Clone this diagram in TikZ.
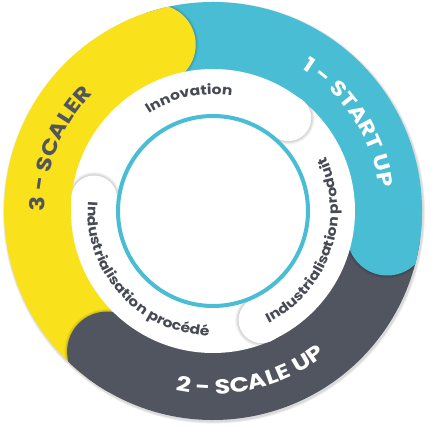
\documentclass[tikz,border=0pt]{standalone}
\usepackage{fontspec}
\setmainfont{Poppins}
\newfontfamily\trkouter{Poppins}[FakeStretch=1.18]
\newfontfamily\trkwide{Poppins}[FakeStretch=1.24]
\newfontfamily\trkinner{Poppins}[FakeStretch=1.15]
\usetikzlibrary{decorations.text}
\definecolor{cyel}{HTML}{F9E21C}
\definecolor{cblu}{HTML}{49BDD4}
\definecolor{cgry}{HTML}{51555F}
\definecolor{ctxt}{HTML}{474A55}
\begin{document}
\begin{tikzpicture}
\useasboundingbox (-213pt,-216pt) rectangle (218pt,211pt);
\coordinate (c) at (0,0);
% soft drop shadow of the disc
\foreach \k in {1,2,3}{
  \fill[black,opacity=0.05] (1pt,-1.5pt) circle (209pt+\k*0.7pt);
}
% outer ring sectors
\fill[cyel] (c) -- (109:209pt) arc (109:233:209pt) -- cycle;
\fill[cgry] (c) -- (233:209pt) arc (233:352:209pt) -- cycle;
\fill[cblu] (c) -- (-8:209pt) arc (-8:109:209pt) -- cycle;
% rounded heads of outer sectors
\foreach \a/\col in {109/cyel, -8/cblu, 233/cgry}{
  \pgfmathsetmacro\b{\a-35}
  \begin{scope}
    \clip (\b:209pt) arc (\b:\a:209pt) -- (\a:142pt) arc (\a:\b:142pt) -- cycle;
    \foreach \k in {1,...,4}{
      \fill[black,opacity=0.04] (\a:176pt) circle (40pt+\k*0.7pt);
    }
  \end{scope}
  \begin{scope}
    \clip (c) circle (209pt);
    \fill[\col] (\a:176pt) circle (40pt);
  \end{scope}
}
% inner white disc
\fill[white] (c) circle (142pt);
% rounded heads of inner segments
\foreach \a in {51, -66, 174}{
  \pgfmathsetmacro\b{\a-35}
  \begin{scope}
    \clip (\b:142pt) arc (\b:\a:142pt) -- (\a:97pt) arc (\a:\b:97pt) -- cycle;
    \foreach \k in {1,...,5}{
      \fill[black,opacity=0.035] (\a:119.5pt) circle (23pt+\k*0.7pt);
    }
  \end{scope}
  \fill[white] (\a:119.5pt) circle (23pt);
}
% inner blue circle
\draw[cblu, line width=4pt] (c) circle (95pt);
% outer labels
\path[decorate, decoration={text along path, text color=white, text align=center,
  text={|\trkouter\bfseries\fontsize{20.5pt}{20.5pt}\selectfont|1 - START UP}}]
  (73:168pt) arc (73:-7:168pt);
\path[decorate, decoration={text along path, text color=cgry, text align=center,
  text={|\trkouter\bfseries\fontsize{20.5pt}{20.5pt}\selectfont|3 - SCALER}}]
  (198:168pt) arc (198:118:168pt);
\path[decorate, decoration={text along path, text color=white, text align=center,
  text={|\trkwide\bfseries\fontsize{20.5pt}{20.5pt}\selectfont|2 - SCALE UP}}]
  (243:183pt) arc (243:323:183pt);
% inner labels
\path[decorate, decoration={text along path, text color=ctxt, text align=center,
  text={|\trkinner\bfseries\fontsize{13.5pt}{13.5pt}\selectfont|Innovation}}]
  (142:116.5pt) arc (142:62:116.5pt);
\path[decorate, decoration={text along path, text color=ctxt, text align=center,
  text={|\trkinner\bfseries\fontsize{13.5pt}{13.5pt}\selectfont|Industrialisation produit}}]
  (-84:125pt) arc (-84:46:125pt);
\path[decorate, decoration={text along path, text color=ctxt, text align=center,
  text={|\trkinner\bfseries\fontsize{13.5pt}{13.5pt}\selectfont|Industrialisation procédé}}]
  (157:125pt) arc (157:287:125pt);
\end{tikzpicture}
\end{document}
